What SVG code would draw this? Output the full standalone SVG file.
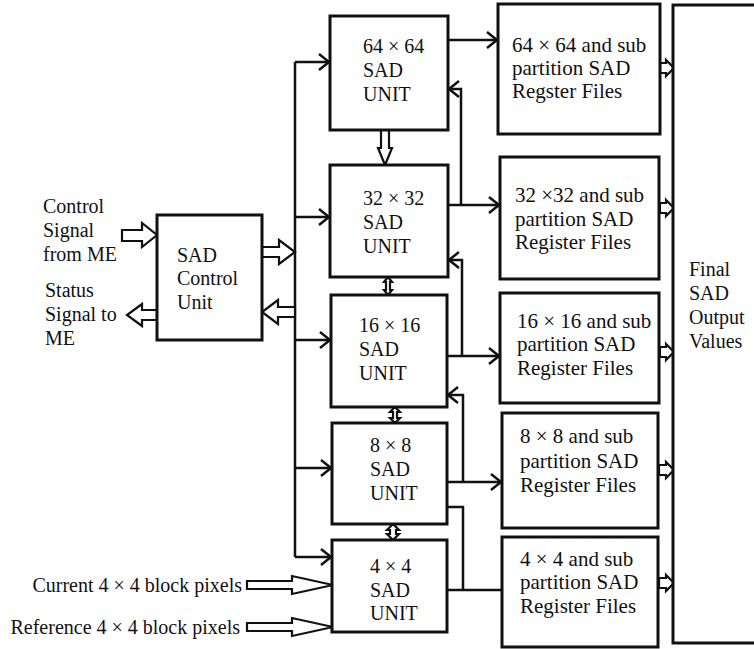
<svg xmlns="http://www.w3.org/2000/svg" width="754" height="649" viewBox="0 0 754 649" font-family="'Liberation Serif', 'Times New Roman', serif">
<defs>
<marker id="ah" markerUnits="userSpaceOnUse" markerWidth="20" markerHeight="20" viewBox="-12 -10 14 20" refX="0" refY="0" orient="auto">
<path d="M-10,-8 L0,0 L-10,8" fill="none" stroke="#111" stroke-width="2.5"/>
</marker>
</defs>
<style>
.box{fill:#fff;stroke:#111;stroke-width:3}
.ln{fill:none;stroke:#111;stroke-width:2.5}
.la{fill:none;stroke:#111;stroke-width:2.5;marker-end:url(#ah)}
.ha{fill:#fff;stroke:#111;stroke-width:2.2;stroke-linejoin:miter}
text{font-family:"Liberation Serif","Times New Roman",serif;font-size:20px;fill:#111}
.rg{font-size:21px}
</style>
<rect width="754" height="649" fill="#fff"/>

<g id="connectors">
<path class="ln" d="M295,62 V557"/>
<path class="la" d="M295,62 H329"/>
<path class="la" d="M295,217 H329"/>
<path class="la" d="M295,340 H330"/>
<path class="la" d="M295,468 H331"/>
<path class="la" d="M295,557 H331"/>
<path class="la" d="M448,40 H497"/>
<path class="la" d="M448,205 H499"/>
<path class="la" d="M447,356 H499"/>
<path class="la" d="M447,482 H501"/>
<path class="ln" d="M447,590 H502"/>
<path class="la" d="M461,205 V89 H449"/>
<path class="la" d="M462,356 V260 H449"/>
<path class="la" d="M463,482 V395 H448"/>
<path class="ln" d="M463,590 V507 H447"/>
<path class="ha" d="M122,230 H142 V223 L157,235 L142,247 V241 H122 Z"/>
<path class="ha" d="M157,310 H142 V304 L127,315 L142,326 V320 H157 Z"/>
<path class="ha" d="M262,247 H279 V240 L295,252 L279,264 V257 H262 Z"/>
<path class="ha" d="M295,307 H278 V300 L262,312 L278,324 V317 H295 Z"/>
<path class="ha" d="M381,130 H389 V148 H392 L385,165 L378,148 H381 Z"/>
<path class="ha" d="M388,277 L392,282 H390 V290 H392 L388,295 L384,290 H386 V282 H384 Z"/>
<path class="ha" d="M395,407 L400,412 H397 V418 H400 L395,423 L390,418 H393 V412 H390 Z"/>
<path class="ha" d="M393,524 L399,530 H396 V534 H399 L393,540 L387,534 H390 V530 H387 Z"/>
<path class="ha" d="M247,581 H292 V576 L333,585 L292,594 V589 H247 Z"/>
<path class="ha" d="M247,623 H292 V618 L333,627 L292,636 V631 H247 Z"/>
<path class="ha" d="M660,63 H666 V60 L674,68 L666,76 V73 H660 Z"/>
<path class="ha" d="M660,203 H666 V200 L674,208 L666,216 V213 H660 Z"/>
<path class="ha" d="M660,347 H666 V344 L674,352 L666,360 V357 H660 Z"/>
<path class="ha" d="M659,465 H666 V462 L674,470 L666,478 V475 H659 Z"/>
<path class="ha" d="M659,578 H666 V575 L674,583 L666,591 V588 H659 Z"/>
</g>

<g id="control-labels">
<text x="43" y="213">Control</text>
<text x="43" y="237">Signal</text>
<text x="43" y="261">from ME</text>
<text x="45" y="297">Status</text>
<text x="45" y="321">Signal to</text>
<text x="45" y="345">ME</text>
</g>

<g id="sad-control">
<rect class="box" x="157" y="215" width="105" height="125"/>
<text x="177" y="262">SAD</text>
<text x="177" y="285">Control</text>
<text x="177" y="309">Unit</text>
</g>

<g id="unit64">
<rect class="box" x="330" y="16" width="118" height="114"/>
<text x="363" y="53">64 × 64</text>
<text x="363" y="77">SAD</text>
<text x="363" y="101">UNIT</text>
</g>
<g id="unit32">
<rect class="box" x="330" y="165" width="118" height="112"/>
<text x="363" y="205">32 × 32</text>
<text x="363" y="229">SAD</text>
<text x="363" y="253">UNIT</text>
</g>
<g id="unit16">
<rect class="box" x="331" y="295" width="116" height="112"/>
<text x="359" y="332">16 × 16</text>
<text x="359" y="356">SAD</text>
<text x="359" y="380">UNIT</text>
</g>
<g id="unit8">
<rect class="box" x="332" y="423" width="115" height="101"/>
<text x="370" y="452">8 × 8</text>
<text x="370" y="476">SAD</text>
<text x="370" y="500">UNIT</text>
</g>
<g id="unit4">
<rect class="box" x="332" y="540" width="115" height="92"/>
<text x="370" y="573">4 × 4</text>
<text x="370" y="597">SAD</text>
<text x="370" y="620">UNIT</text>
</g>

<g id="reg64">
<rect class="box" x="498" y="4" width="162" height="130"/>
<text class="rg" x="512" y="52">64 × 64 and sub</text>
<text class="rg" x="512" y="75">partition SAD</text>
<text class="rg" x="512" y="98">Regster Files</text>
</g>
<g id="reg32">
<rect class="box" x="500" y="157" width="159" height="122"/>
<text class="rg" x="515" y="202">32 ×32 and sub</text>
<text class="rg" x="515" y="226">partition SAD</text>
<text class="rg" x="515" y="249">Register Files</text>
</g>
<g id="reg16">
<rect class="box" x="500" y="293" width="159" height="110"/>
<text class="rg" x="517" y="328">16 × 16 and sub</text>
<text class="rg" x="517" y="351">partition SAD</text>
<text class="rg" x="517" y="375">Register Files</text>
</g>
<g id="reg8">
<rect class="box" x="502" y="413" width="156" height="115"/>
<text class="rg" x="520" y="443">8 × 8 and sub</text>
<text class="rg" x="520" y="468">partition SAD</text>
<text class="rg" x="520" y="492">Register Files</text>
</g>
<g id="reg4">
<rect class="box" x="502" y="537" width="156" height="110"/>
<text class="rg" x="520" y="566">4 × 4 and sub</text>
<text class="rg" x="520" y="589">partition SAD</text>
<text class="rg" x="520" y="613">Register Files</text>
</g>

<g id="final">
<rect class="box" x="673" y="5" width="120" height="638"/>
<text x="689" y="276">Final</text>
<text x="689" y="300">SAD</text>
<text x="689" y="324">Output</text>
<text x="689" y="348">Values</text>
</g>

<g id="inputs">
<text x="242" y="592" text-anchor="end">Current 4 × 4 block pixels</text>
<text x="240" y="634" text-anchor="end">Reference 4 × 4 block pixels</text>
</g>
</svg>
